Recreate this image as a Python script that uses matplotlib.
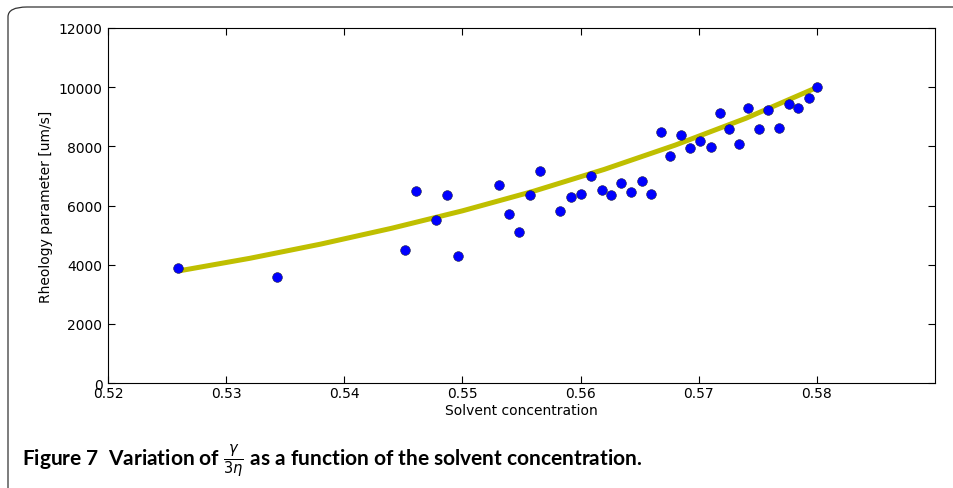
import numpy as np
import matplotlib.pyplot as plt
from matplotlib.patches import FancyBboxPatch

# measured points (solvent concentration vs rheology parameter)
conc = [0.5259, 0.5343, 0.5451, 0.5461, 0.5478, 0.5487, 0.5496, 0.5531,
        0.5539, 0.5548, 0.5557, 0.5566, 0.5583, 0.5592, 0.5600, 0.5609,
        0.5618, 0.5626, 0.5634, 0.5643, 0.5652, 0.5660, 0.5668, 0.5676,
        0.5685, 0.5693, 0.5701, 0.5710, 0.5718, 0.5726, 0.5734, 0.5742,
        0.5751, 0.5759, 0.5768, 0.5776, 0.5784, 0.5793, 0.5800]
rheo = [3900, 3580, 4480, 6490, 5510, 6350, 4280, 6700,
        5700, 5100, 6370, 7180, 5800, 6300, 6380, 7010,
        6530, 6350, 6760, 6460, 6830, 6400, 8470, 7660,
        8400, 7950, 8170, 7990, 9140, 8570, 8090, 9290,
        8570, 9230, 8620, 9440, 9290, 9650, 9990]

# fitted curve
fit_x = [0.526, 0.532, 0.538, 0.544, 0.550, 0.556, 0.562, 0.568, 0.574, 0.580]
fit_y = [3790, 4215, 4695, 5230, 5820, 6480, 7220, 8040, 8950, 9990]

xticks = [0.52, 0.53, 0.54, 0.55, 0.56, 0.57, 0.58]
yticks = [0, 2000, 4000, 6000, 8000, 10000, 12000]

fig = plt.figure(figsize=(9.54, 4.89), dpi=100)
ax = fig.add_axes([0.1132, 0.2147, 0.8669, 0.726])

ax.plot(fit_x, fit_y, color=(0.75, 0.75, 0), lw=3.6, zorder=2, solid_capstyle='butt')
ax.plot(conc, rheo, 'o', color='#0000ff', mec='#202040', mew=0.4, ms=7, zorder=3)

ax.set_xlim(0.52, 0.59)
ax.set_ylim(0, 12000)
ax.set_xticks(xticks)
ax.set_xticklabels([f'{t:.2f}' for t in xticks])
ax.set_yticks(yticks)
ax.tick_params(direction='in', top=True, right=True, length=5, labelsize=10)
ax.tick_params(axis='x', pad=2)
ax.tick_params(axis='y', pad=4)
ax.set_xlabel('Solvent concentration', fontsize=10, labelpad=2)
ax.set_ylabel('Rheology parameter [um/s]', fontsize=10)

# rounded frame around the figure
frame = FancyBboxPatch((8 / 954, -20 / 489), 1.2, (489 - 8 + 20) / 489,
                       boxstyle='round,pad=0,rounding_size=0.02',
                       transform=fig.transFigure, fill=False,
                       edgecolor='#333333', lw=0.9, clip_on=False)
fig.patches.append(frame)

fig.text(22 / 954, 1 - 461 / 489,
         r'Figure 7  Variation of $\frac{\gamma}{3\eta}$ as a function of the solvent concentration.',
         fontsize=15, fontweight='bold', family=['Lato', 'DejaVu Sans'],
         va='center', ha='left')

fig.savefig('out.png', dpi=100)
